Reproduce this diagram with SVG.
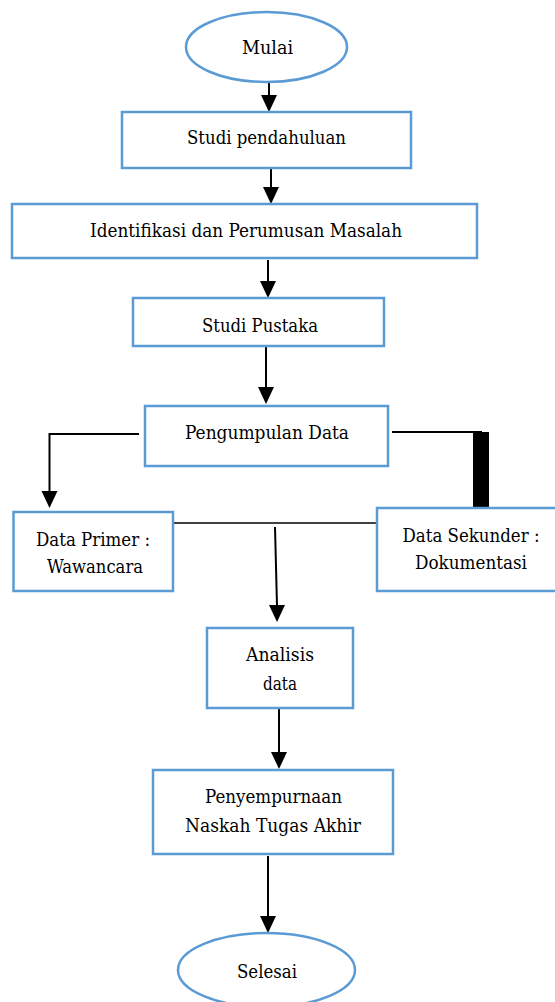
<svg xmlns="http://www.w3.org/2000/svg" width="555" height="1002" viewBox="0 0 555 1002">
<style>
.box{fill:#fff;stroke:#5B9BD5;stroke-width:2.5}
.t{font-family:'DejaVu Serif Condensed','DejaVu Serif',serif;font-size:19px;fill:#000;text-anchor:middle}
.c{stroke:#000;stroke-width:2;fill:none}
.thin{stroke:#000;stroke-width:1.6;fill:none}
.ah{fill:#000}
</style>
<g id="connectors">
<line class="c" x1="269" y1="82" x2="269" y2="96"/>
<path class="ah" d="M261,95 L277,95 L269,112 Z"/>
<line class="c" x1="271" y1="168" x2="271" y2="188"/>
<path class="ah" d="M263,187 L279,187 L271,204 Z"/>
<line class="c" x1="268" y1="260" x2="268" y2="282"/>
<path class="ah" d="M260,281 L276,281 L268,298 Z"/>
<line class="c" x1="266" y1="346" x2="266" y2="388"/>
<path class="ah" d="M258,387 L274,387 L266,404 Z"/>
<polyline class="c" points="139,434 49.5,434 49.5,492"/>
<path class="ah" d="M41.5,491 L57.5,491 L49.5,508 Z"/>
<line class="c" x1="392" y1="432" x2="482" y2="432"/>
<rect x="473" y="432" width="16" height="76" fill="#000"/>
<line class="thin" x1="173" y1="523" x2="377" y2="523"/>
<line class="c" x1="275" y1="527" x2="277" y2="606"/>
<path class="ah" d="M269,605 L285,605 L277,622 Z"/>
<line class="c" x1="279" y1="708" x2="279" y2="753"/>
<path class="ah" d="M271,752 L287,752 L279,769 Z"/>
<line class="c" x1="268" y1="856" x2="268" y2="917"/>
<path class="ah" d="M260,916 L276,916 L268,933 Z"/>
</g>
<g id="mulai">
<ellipse class="box" cx="266.5" cy="47" rx="80.5" ry="35"/>
<text class="t" x="267.5" y="54" textLength="51" lengthAdjust="spacingAndGlyphs">Mulai</text>
</g>
<g id="studi-pendahuluan">
<rect class="box" x="122" y="112" width="289" height="56"/>
<text class="t" x="266.5" y="144" textLength="159" lengthAdjust="spacingAndGlyphs">Studi pendahuluan</text>
</g>
<g id="identifikasi">
<rect class="box" x="12" y="204" width="465" height="54"/>
<text class="t" x="246" y="237" textLength="312" lengthAdjust="spacingAndGlyphs">Identifikasi dan Perumusan Masalah</text>
</g>
<g id="studi-pustaka">
<rect class="box" x="133" y="298" width="251" height="48"/>
<text class="t" x="260" y="332" textLength="116" lengthAdjust="spacingAndGlyphs">Studi Pustaka</text>
</g>
<g id="pengumpulan-data">
<rect class="box" x="145" y="406" width="243" height="60"/>
<text class="t" x="267" y="439" textLength="164" lengthAdjust="spacingAndGlyphs">Pengumpulan Data</text>
</g>
<g id="data-primer">
<rect class="box" x="13.5" y="512" width="159.5" height="79"/>
<text class="t" x="93" y="546" textLength="114" lengthAdjust="spacingAndGlyphs">Data Primer :</text>
<text class="t" x="95" y="573" textLength="96" lengthAdjust="spacingAndGlyphs">Wawancara</text>
</g>
<g id="data-sekunder">
<rect class="box" x="377" y="508" width="186" height="83"/>
<text class="t" x="471" y="542" textLength="137" lengthAdjust="spacingAndGlyphs">Data Sekunder :</text>
<text class="t" x="471" y="569" textLength="112" lengthAdjust="spacingAndGlyphs">Dokumentasi</text>
</g>
<g id="analisis-data">
<rect class="box" x="207" y="628" width="146" height="80"/>
<text class="t" x="280" y="661" textLength="68" lengthAdjust="spacingAndGlyphs">Analisis</text>
<text class="t" x="280" y="690" textLength="34" lengthAdjust="spacingAndGlyphs">data</text>
</g>
<g id="penyempurnaan">
<rect class="box" x="153" y="770" width="240" height="84"/>
<text class="t" x="273.5" y="803" textLength="137" lengthAdjust="spacingAndGlyphs">Penyempurnaan</text>
<text class="t" x="273" y="832" textLength="176" lengthAdjust="spacingAndGlyphs">Naskah Tugas Akhir</text>
</g>
<g id="selesai">
<ellipse class="box" cx="266.5" cy="970" rx="88.5" ry="37"/>
<text class="t" x="267" y="978" textLength="60" lengthAdjust="spacingAndGlyphs">Selesai</text>
</g>
</svg>
